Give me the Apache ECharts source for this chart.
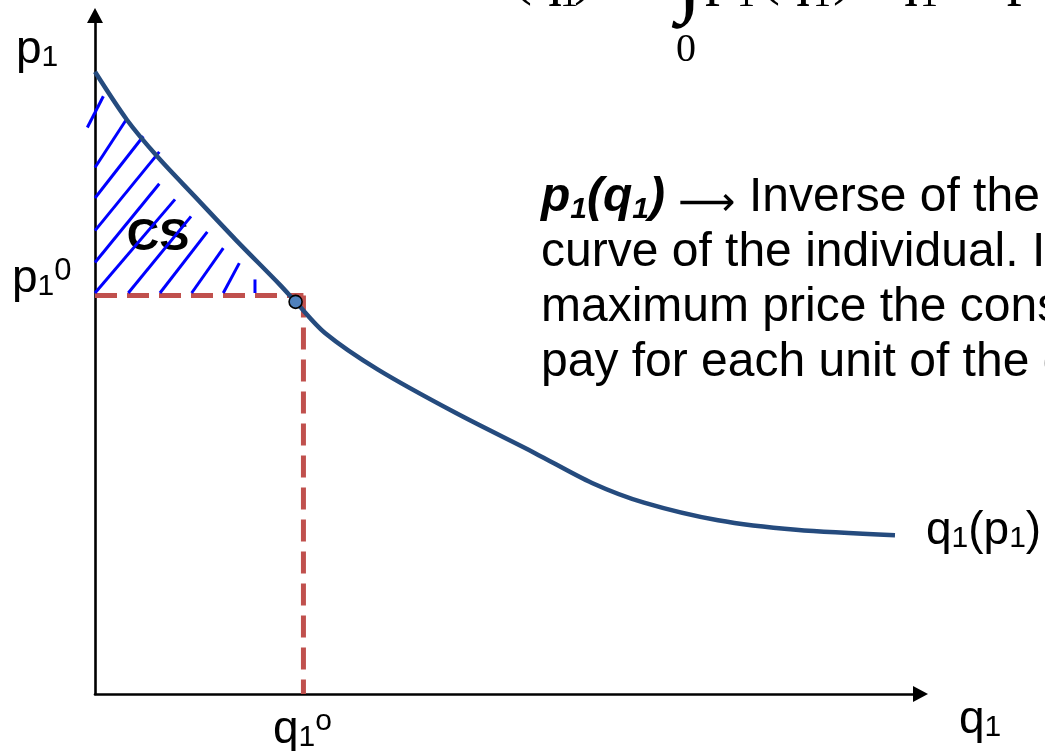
<!DOCTYPE html>
<html>
<head>
<meta charset="utf-8">
<script src="https://cdn.jsdelivr.net/npm/echarts@6/dist/echarts.min.js"></script>
<style>
  html, body { margin: 0; padding: 0; background: #fff; }
  #chart { width: 1045px; height: 751px; }
</style>
</head>
<body>
<div id="chart"></div>
<script>
// Inverse demand curve p1(q1): quantity and price pairs
const demandQ = [0, 0.388, 0.763, 1.211, 1.708, 2.241, 2.43, 2.786, 3.428, 4.373, 5.330, 6.021, 6.651, 7.547, 8.492, 9.691];
const demandP = [9.17, 8.46, 7.91, 7.33, 6.69, 6.03, 5.78, 5.32, 4.78, 4.14, 3.55, 3.11, 2.82, 2.56, 2.42, 2.34];

// Market price p1^0 and chosen quantity q1^o
const priceLevel = 5.873;
const quantityLevel = 2.525;

// Consumer's optimum on the curve
const optimumQ = [2.43];
const optimumP = [5.78];

// Hatching of the consumer surplus area: segment start and end points (q, p)
const hatchFrom = [[-0.093, 8.35], [0, 7.76], [0, 7.31], [0, 6.83], [0, 6.36], [0, 5.91], [0.403, 5.91], [0.787, 5.91], [1.171, 5.91], [1.554, 5.91], [1.938, 5.91]];
const hatchTo = [[0.101, 8.81], [0.376, 8.46], [0.585, 8.22], [0.779, 7.99], [0.779, 7.52], [0.969, 7.29], [1.163, 7.04], [1.360, 6.81], [1.554, 6.57], [1.748, 6.35], [1.938, 6.11]];

// Axis ranges
const qRange = [0, 10];
const pRange = [0, 10];

const SANS = '"Liberation Sans", Arial, sans-serif';
const SERIF = '"Liberation Serif", "Times New Roman", serif';
const INK = '#000000';

const chart = echarts.init(document.getElementById('chart'), null, { renderer: 'canvas' });

// rich styles shared by the labels: main glyph, subscript, superscript
function labelRich(size, lineH) {
  return {
    m: { fontSize: size, fontFamily: SANS, fill: INK, lineHeight: lineH },
    s: { fontSize: 30, fontFamily: SANS, fill: INK, lineHeight: 20, verticalAlign: 'bottom' },
    t: { fontSize: 31, fontFamily: SANS, fill: INK, lineHeight: 8, verticalAlign: 'top' },
    o: { fontSize: 30, fontFamily: SANS, fill: INK, lineHeight: 34, verticalAlign: 'top' },
    bi: { fontSize: size, fontFamily: SANS, fontWeight: 'bold', fontStyle: 'italic', fill: INK, lineHeight: lineH },
    bis: { fontSize: 30, fontFamily: SANS, fontWeight: 'bold', fontStyle: 'italic', fill: INK, lineHeight: 20, verticalAlign: 'bottom' },
    ar: { fontSize: 40, fontFamily: '"DejaVu Sans", sans-serif', fill: INK, lineHeight: 40, verticalAlign: 'bottom' },
    n: { fontSize: size, fontFamily: SANS, fill: INK, lineHeight: lineH }
  };
}

function label(x, y, text, size, lineH) {
  size = size || 46;
  return {
    type: 'text', x: x, y: y, z: 10,
    style: {
      text: text, rich: labelRich(size, lineH || 46),
      fontSize: size, fontFamily: SANS, fill: INK,
      align: 'left', verticalAlign: 'top', textAlign: 'left', textVerticalAlign: 'top'
    }
  };
}

// pieces of the surplus formula, whose upper part runs off the top edge
function formulaPiece(x, y, text, size, align) {
  return {
    type: 'text', x: x, y: y, z: 10,
    style: {
      text: text, fontSize: size, fontFamily: SERIF, fill: INK,
      align: align || 'left', verticalAlign: 'middle',
      textAlign: align || 'left', textVerticalAlign: 'middle'
    }
  };
}

const formula = [
  formulaPiece(562, -23, 'CS(q', 60, 'right'),
  formulaPiece(560, -3, '1', 36),
  formulaPiece(574, -23, ') =', 60),
  formulaPiece(677, -22, '\u222B', 96),
  formulaPiece(686, 50, '0', 40, 'center'),
  formulaPiece(705, -23, 'p', 60),
  formulaPiece(737, -3, '1', 36),
  formulaPiece(760, -23, '(q', 60),
  formulaPiece(813, -3, '1', 36),
  formulaPiece(833, -23, ')', 60),
  formulaPiece(858, -23, 'dq', 60),
  formulaPiece(920, -3, '1', 36),
  formulaPiece(958, -23, '\u2212 p', 60)
];

const axisLine = {
  show: true, onZero: true,
  symbol: ['none', 'triangle'], symbolSize: [16, 15],
  lineStyle: { color: INK, width: 2.6 }
};

const option = {
  animation: false,
  backgroundColor: '#ffffff',
  grid: { left: 95, right: 124.5, top: 15.5, bottom: 57, containLabel: false },
  xAxis: {
    type: 'value', min: qRange[0], max: qRange[1], axisLine: axisLine,
    axisTick: { show: false }, axisLabel: { show: false }, splitLine: { show: false }
  },
  yAxis: {
    type: 'value', min: pRange[0], max: pRange[1], axisLine: axisLine,
    axisTick: { show: false }, axisLabel: { show: false }, splitLine: { show: false }
  },
  graphic: [
    // consumer surplus label, beneath the hatching
    {
      type: 'text', x: 158, y: 238, z: 0,
      style: { text: 'CS', fontSize: 45, fontWeight: 'bold', fontFamily: SANS, fill: INK,
        align: 'center', verticalAlign: 'middle', textAlign: 'center', textVerticalAlign: 'middle' }
    },
    label(16, 27, '{m|p}{s|1}'),
    label(12, 256, '{m|p}{s|1}{t|0}'),
    label(273, 707, '{m|q}{s|1}{o|o}'),
    label(959, 697, '{m|q}{s|1}'),
    label(926, 508, '{m|q}{s|1}{m|(p}{s|1}{m|)}'),
    label(541, 170,
      '{bi|p}{bis|1}{bi|(q}{bis|1}{bi|)}{n| }{ar|\u27F6}{n| Inverse of the demand}\n' +
      '{n|curve of the individual. It}\n' +
      '{n|maximum price the consumer is willing to}\n' +
      '{n|pay for each unit of the good.}', 48, 55)
  ].concat(formula),
  series: [
    {
      name: 'price line', type: 'line', z: 2, silent: true, showSymbol: false,
      data: [[0, priceLevel], [quantityLevel, priceLevel]],
      lineStyle: { color: '#C0504D', width: 5, type: [22, 10], cap: 'butt' }
    },
    {
      name: 'quantity line', type: 'line', z: 2, silent: true, showSymbol: false,
      data: [[quantityLevel, priceLevel], [quantityLevel, 0]],
      lineStyle: { color: '#C0504D', width: 5, type: [22, 10], cap: 'butt' }
    },
    {
      name: 'surplus hatching', type: 'custom', z: 3, silent: true, clip: false,
      data: hatchFrom.map(function (a, i) { return [a[0], a[1], hatchTo[i][0], hatchTo[i][1]]; }),
      encode: { x: [0, 2], y: [1, 3] },
      renderItem: function (params, api) {
        const a = api.coord([api.value(0), api.value(1)]);
        const b = api.coord([api.value(2), api.value(3)]);
        return {
          type: 'line',
          shape: { x1: a[0], y1: a[1], x2: b[0], y2: b[1] },
          style: { stroke: '#0000FF', lineWidth: 3, lineCap: 'butt' }
        };
      }
    },
    {
      name: 'p1(q1)', type: 'line', z: 4, silent: true, showSymbol: false,
      smooth: 0.3,
      data: demandQ.map(function (q, i) { return [q, demandP[i]]; }),
      lineStyle: { color: '#254B7E', width: 4.5 }
    },
    {
      name: 'optimum', type: 'scatter', z: 5, silent: true,
      data: optimumQ.map(function (q, i) { return [q, optimumP[i]]; }),
      symbol: 'circle', symbolSize: 13,
      itemStyle: { color: '#4F81BD', borderColor: '#000000', borderWidth: 1.6, opacity: 1 }
    }
  ]
};

chart.setOption(option);
</script>
</body>
</html>
